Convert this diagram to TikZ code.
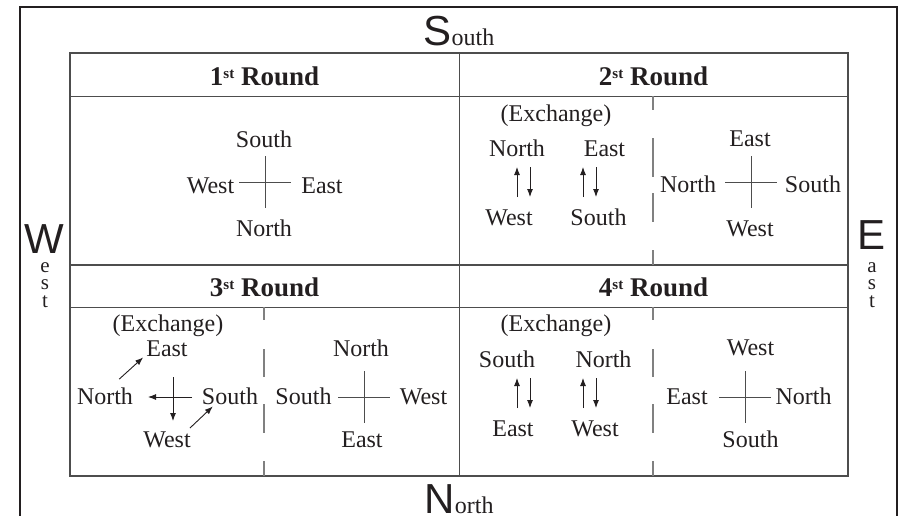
\documentclass[tikz,border=0pt]{standalone}
\usepackage{fontspec}
\setmainfont{Liberation Serif}
\newfontfamily\compassfont{Liberation Sans}
\usetikzlibrary{arrows.meta}
\definecolor{ink}{HTML}{231F20}
\definecolor{rule}{HTML}{4D4D4D}
\newcommand{\rnd}[1]{#1\raisebox{7pt}{\fontsize{15}{15}\selectfont st} Round}

\begin{document}
\begin{tikzpicture}[x=1pt,y=-1pt,
    lbl/.style={anchor=base,inner sep=0pt,text=ink,font=\fontsize{24}{28}\selectfont},
    hdr/.style={anchor=base,inner sep=0pt,text=ink,font=\fontsize{27}{30}\selectfont\bfseries},
    bigl/.style={anchor=base,inner sep=0pt,text=ink,font=\compassfont\fontsize{42}{44}\selectfont},
    small/.style={anchor=base,inner sep=0pt,text=ink,font=\fontsize{21}{24}\selectfont},
    xarrow/.style={draw=ink,line width=0.9pt,-{Latex[length=8pt,width=6pt]}},
    crossline/.style={draw=rule,line width=1pt},
    divider/.style={draw=gray,line width=1.5pt}]
    \useasboundingbox (0,0) rectangle (898,515);
    % frame and table
    \draw[ink,line width=1.5pt] (20,520) -- (20,7) -- (897,7) -- (897,520);
    \draw[rule,line width=1.6pt] (70,53) rectangle (848,476);
    \draw[rule,line width=1pt] (459,53) -- (459,476);
    \draw[rule,line width=1pt] (70,96) -- (848,96);
    \draw[rule,line width=1.4pt] (70,265) -- (848,265);
    \draw[rule,line width=1pt] (70,307) -- (848,307);
    % compass names
    \node[lbl] (south) at (459,45) {{\compassfont\fontsize{42}{44}\selectfont S}outh};
    \node[lbl] (north) at (459,513) {{\compassfont\fontsize{42}{44}\selectfont N}orth};
    \node[bigl] (wbig) at (44,253) {W};
    \node[bigl] (ebig) at (872,249) {E};
    \foreach \ch [count=\i] in {e,s,t}
        \node[small] (wl\i) at (45,254.5+17.5*\i) {\ch};
    \foreach \ch [count=\i] in {a,s,t}
        \node[small] (el\i) at (872,254.5+17.5*\i) {\ch};
    % headers
    \node[hdr] (r1) at (264.5,85) {\rnd{1}};
    \node[hdr] (r2) at (653.5,85) {\rnd{2}};
    \node[hdr] (r3) at (264.5,296) {\rnd{3}};
    \node[hdr] (r4) at (653.5,296) {\rnd{4}};
    % dashed dividers
    \foreach \ya/\yb in {96/110, 138/177, 193/222, 250/265}
        \draw[divider] (653,\ya) -- (653,\yb);
    \foreach \ya/\yb in {307/320, 349/377, 404/433, 461/476}{
        \draw[divider] (264,\ya) -- (264,\yb);
        \draw[divider] (653,\ya) -- (653,\yb);
    }
    % crosses
    \foreach \cx/\cy in {265/182, 751/182, 364/397, 745/397}
        \draw[crossline] (\cx-26,\cy) -- (\cx+26,\cy) (\cx,\cy-26) -- (\cx,\cy+26);
    % 1st round
    \node[lbl] (s1) at (264,147) {South};
    \node[lbl] (w1) at (210.5,193) {West};
    \node[lbl] (e1) at (322,193) {East};
    \node[lbl] (n1) at (264,236) {North};
    % 2nd round
    \node[lbl] (x2) at (556,121.5) {(Exchange)};
    \node[lbl] (n2) at (517,156) {North};
    \node[lbl] (e2) at (604.5,156) {East};
    \node[lbl] (w2) at (509,225) {West};
    \node[lbl] (s2) at (598.5,225) {South};
    \node[lbl] (e2r) at (750,146) {East};
    \node[lbl] (n2r) at (688,192) {North};
    \node[lbl] (s2r) at (813,192) {South};
    \node[lbl] (w2r) at (750,236) {West};
    % 3rd round
    \node[lbl] (x3) at (168,331.5) {(Exchange)};
    \node[lbl] (e3) at (167,356) {East};
    \node[lbl] (n3) at (105,404) {North};
    \node[lbl] (s3) at (230,404) {South};
    \node[lbl] (w3) at (167,447) {West};
    \node[lbl] (n3r) at (361,356) {North};
    \node[lbl] (s3r) at (303.5,404) {South};
    \node[lbl] (w3r) at (423.5,404) {West};
    \node[lbl] (e3r) at (362,447) {East};
    % 4th round
    \node[lbl] (x4) at (556,331.5) {(Exchange)};
    \node[lbl] (s4) at (507,367) {South};
    \node[lbl] (n4) at (603.5,367) {North};
    \node[lbl] (e4) at (513,436) {East};
    \node[lbl] (w4) at (595,436) {West};
    \node[lbl] (w4r) at (750.5,355) {West};
    \node[lbl] (e4r) at (687,404) {East};
    \node[lbl] (n4r) at (803.5,404) {North};
    \node[lbl] (s4r) at (750.5,447) {South};
    % exchange arrows
    \foreach \ax/\ay in {517/167, 583/167, 517/378, 583/378}{
        \draw[xarrow] (\ax,\ay+30) -- (\ax,\ay);
        \draw[xarrow] (\ax+13,\ay) -- (\ax+13,\ay+30);
    }
    \draw[xarrow] ([shift={(-14,-8)}]n3.north east) -- ([shift={(-3,1)}]e3.south west);
    \draw[xarrow] ([shift={(-1,-3)}]w3.north east) -- ([shift={(11,2)}]s3.south west);
    \draw[xarrow] (192,397) -- (148,397);
    \draw[xarrow] (173,377) -- (173,421);
\end{tikzpicture}
\end{document}
